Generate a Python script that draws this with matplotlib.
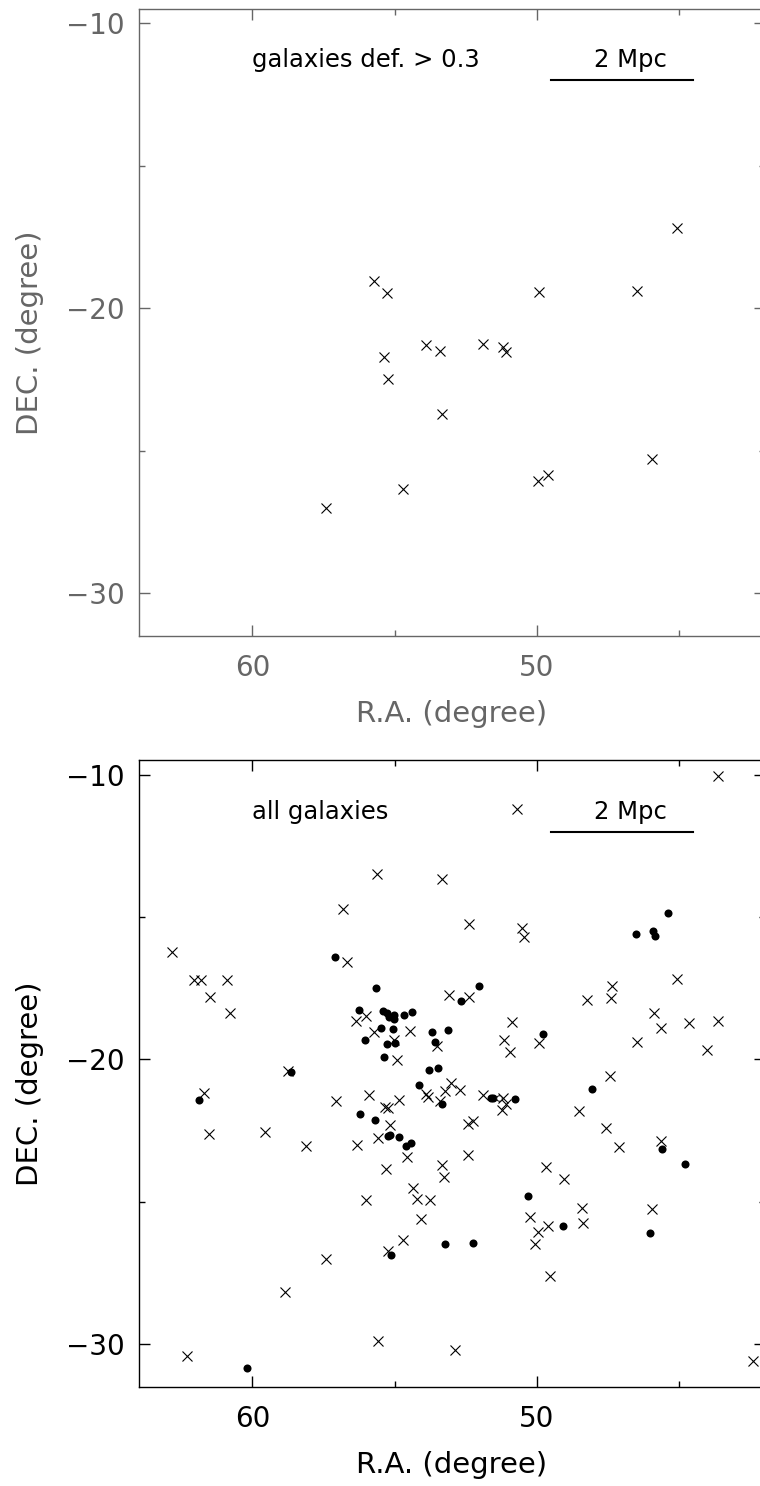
import matplotlib
matplotlib.use("Agg")
import matplotlib.pyplot as plt
from matplotlib.ticker import MultipleLocator

plt.rcParams['font.family'] = ['DejaVu Sans']

# --- galaxies with deficiency > 0.3 (R.A., DEC. in degrees)
def_ra = [55.73, 55.27, 55.38, 55.23, 53.90, 53.41, 53.35, 51.89, 51.19, 51.09,
          49.91, 46.48, 45.09, 57.42, 54.72, 49.95, 49.60, 45.94]
def_dec = [-19.03, -19.47, -21.70, -22.50, -21.31, -21.49, -23.72, -21.25, -21.37, -21.55,
           -19.44, -19.41, -17.17, -27.01, -26.34, -26.08, -25.85, -25.29]

# --- all galaxies: crosses
x_ra = [43.62, 50.71, 55.63, 53.32, 56.83, 52.38, 50.52, 50.46, 62.84, 56.66,
        45.08, 62.05, 61.82, 60.89, 47.35, 53.08, 52.38, 61.50, 47.39, 48.23,
        60.80, 45.88, 56.00, 56.34, 43.62, 50.88, 44.64, 45.64, 54.47, 55.73,
        46.48, 51.15, 49.91, 55.02, 53.50, 50.94, 44.03, 54.90, 58.75, 47.43,
        53.01, 61.70, 53.23, 52.70, 55.91, 53.88, 53.84, 51.88, 57.05, 54.84,
        53.41, 51.19, 51.09, 51.23, 55.35, 55.23, 48.51, 52.42, 52.26, 55.17,
        61.53, 59.54, 47.57, 55.60, 58.11, 56.33, 47.11, 45.64, 54.57, 52.42,
        55.31, 53.35, 53.25, 49.67, 49.04, 54.36, 55.99, 54.22, 53.76, 48.41,
        48.37, 45.94, 50.25, 54.06, 49.62, 49.95, 54.71, 50.07, 55.22, 57.42,
        49.55, 58.84, 55.60, 52.86, 62.31, 42.39]
x_dec = [-10.05, -11.22, -13.50, -13.67, -14.72, -15.25, -15.40, -15.71, -16.24, -16.57,
         -17.17, -17.21, -17.21, -17.21, -17.42, -17.73, -17.80, -17.80, -17.83, -17.92,
         -18.38, -18.38, -18.48, -18.65, -18.65, -18.69, -18.71, -18.91, -19.01, -19.03,
         -19.41, -19.31, -19.42, -19.33, -19.53, -19.76, -19.67, -20.02, -20.41, -20.59,
         -20.83, -21.17, -21.10, -21.08, -21.25, -21.23, -21.32, -21.24, -21.48, -21.44,
         -21.46, -21.37, -21.56, -21.77, -21.69, -21.72, -21.80, -22.29, -22.15, -22.30,
         -22.63, -22.57, -22.42, -22.77, -23.05, -23.01, -23.07, -22.86, -23.43, -23.36,
         -23.86, -23.72, -24.14, -23.80, -24.21, -24.51, -24.94, -24.91, -24.94, -25.21,
         -25.74, -25.27, -25.53, -25.61, -25.84, -26.07, -26.35, -26.48, -26.73, -27.00,
         -27.62, -28.17, -29.91, -30.21, -30.43, -30.58]

# --- all galaxies: filled dots
dot_ra = [45.38, 46.51, 45.91, 45.85, 57.11, 55.66, 52.05, 52.66, 56.26, 55.42,
          55.27, 55.20, 55.03, 55.03, 54.66, 54.40, 55.49, 55.07, 53.67, 53.11,
          49.80, 56.04, 55.25, 54.99, 53.57, 55.37, 53.80, 53.46, 58.65, 54.16,
          48.05, 51.61, 51.53, 50.77, 61.89, 53.35, 56.20, 55.70, 55.23, 55.17,
          54.84, 54.61, 54.43, 45.61, 44.79, 50.32, 49.09, 46.01, 53.24, 52.24,
          55.11, 60.18]
dot_dec = [-14.85, -15.61, -15.51, -15.67, -16.39, -17.51, -17.42, -17.95, -18.27, -18.29,
           -18.38, -18.50, -18.44, -18.59, -18.44, -18.35, -18.90, -18.94, -19.04, -18.96,
           -19.11, -19.33, -19.46, -19.43, -19.41, -19.91, -20.37, -20.30, -20.46, -20.92,
           -21.06, -21.36, -21.35, -21.38, -21.43, -21.57, -21.93, -22.13, -22.70, -22.66,
           -22.73, -23.04, -22.93, -23.14, -23.67, -24.79, -25.86, -26.09, -26.48, -26.46,
           -26.87, -30.85]

# --- one open circle
open_ra = [51.33]
open_dec = [-21.37]

# scale bar (2 Mpc)
bar_ra = [49.5, 44.5]
bar_dec = [-12.0, -12.0]

fig = plt.figure(figsize=(7.6, 14.86), dpi=100)
ax1 = fig.add_axes([0.18224, 0.5722, 0.8237, 0.4217])
ax2 = fig.add_axes([0.18224, 0.06682, 0.8237, 0.4215])


def style(ax, col):
    ax.set_xlim(64, 42)
    ax.set_ylim(-31.5, -9.5)
    ax.xaxis.set_major_locator(MultipleLocator(10))
    ax.xaxis.set_minor_locator(MultipleLocator(5))
    ax.yaxis.set_major_locator(MultipleLocator(10))
    ax.yaxis.set_minor_locator(MultipleLocator(5))
    for s in ax.spines.values():
        s.set_color(col)
        s.set_linewidth(1.0)
    ax.tick_params(which='both', direction='in', top=True, right=True,
                   color=col, labelcolor=col, width=1.0, labelsize=20)
    ax.tick_params(which='major', length=8)
    ax.tick_params(which='minor', length=4)
    ax.tick_params(axis='x', pad=13)
    ax.tick_params(axis='y', pad=10)
    ax.set_xlabel("R.A. (degree)", fontsize=21, color=col)
    ax.set_ylabel("DEC. (degree)", fontsize=21, color=col)
    ax.xaxis.set_label_coords(0.5, -0.102)
    ax.yaxis.set_label_coords(-0.151, 0.484)
    ax.plot(bar_ra, bar_dec, color='black', lw=1.5)
    ax.text(46.7, -11.55, "2 Mpc", fontsize=17.5, ha='center', va='baseline')


style(ax1, '#666666')
ax1.plot(def_ra, def_dec, 'x', color='black', ms=6.5, mew=0.8)
ax1.text(60.0, -11.55, "galaxies def. > 0.3", fontsize=17.5, ha='left', va='baseline')

style(ax2, 'black')
ax2.plot(x_ra, x_dec, 'x', color='black', ms=7, mew=0.8)
ax2.plot(dot_ra, dot_dec, 'o', color='black', ms=5.8, mew=0)
ax2.plot(open_ra, open_dec, 'o', mfc='white', mec='black', ms=4, mew=0.7)
ax2.text(60.0, -11.55, "all galaxies", fontsize=17.5, ha='left', va='baseline')

fig.savefig("out.png", dpi=100)
